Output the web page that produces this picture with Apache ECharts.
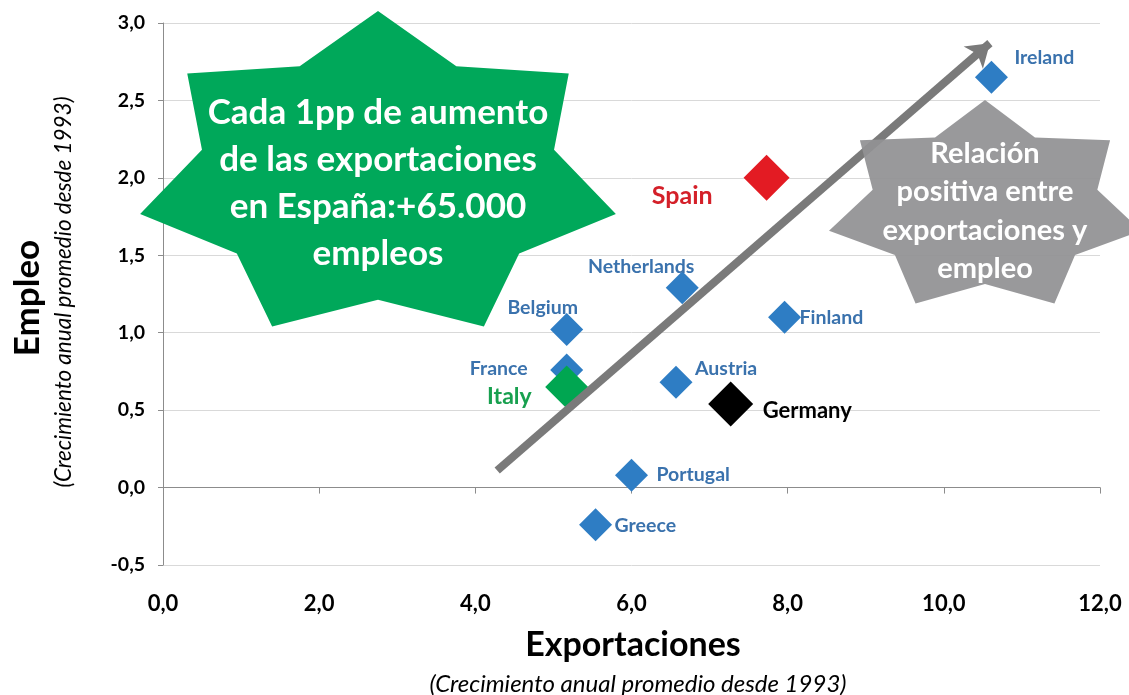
<!DOCTYPE html>
<html><head><meta charset="utf-8">
<script src="https://cdn.jsdelivr.net/npm/echarts@6/dist/echarts.min.js"></script>
<style>html,body{margin:0;padding:0;background:#fff}#c{width:1129px;height:695px}</style>
</head><body><div id="c"></div>
<script>
// ---- data ----
const countries = ['Ireland','Spain','Netherlands','Finland','Belgium','France','Italy','Austria','Germany','Portugal','Greece'];
const exportGrowth = [10.61, 7.73, 6.65, 7.96, 5.17, 5.17, 5.17, 6.57, 7.27, 6.00, 5.54];
const employmentGrowth = [2.65, 2.00, 1.29, 1.10, 1.02, 0.76, 0.65, 0.68, 0.54, 0.08, -0.24];
const xTicks = ['0,0','2,0','4,0','6,0','8,0','10,0','12,0'];
const trendStart = [4.28, 0.11];
const trendEnd = [10.59, 2.87];
const starGreenText = ['Cada 1pp de aumento','de las exportaciones','en España:+65.000','empleos'];
const starGrayText = ['Relación','positiva entre','exportaciones y','empleo'];

// ---- styles ----
const FONT = 'Lato, "Open Sans", sans-serif';
const blue = '#2e7dc4', blueText = '#3a72ad';
const styleMap = {
  Spain:   {color:'#e31b23', text:'#d42029', size:46, fs:25, dx:-54, dy:18, align:'right'},
  Italy:   {color:'#00a651', text:'#18a04f', size:43, fs:23, dx:-35, dy:10, align:'right'},
  Germany: {color:'#000000', text:'#000000', size:45, fs:22, dx:32, dy:7, align:'left'},
  Ireland: {dx:23, dy:-19, align:'left'},
  Netherlands: {dx:-41, dy:-21, align:'center'},
  Finland: {dx:15, dy:0, align:'left'},
  Belgium: {dx:-24, dy:-22, align:'center'},
  France: {dx:-39, dy:-1, align:'right'},
  Austria: {dx:19, dy:-14, align:'left'},
  Portugal: {dx:25, dy:0, align:'left'},
  Greece: {dx:19, dy:1, align:'left'}
};
const order = ['Ireland','Netherlands','Finland','Belgium','France','Austria','Portugal','Greece','Spain','Germany','Italy'];
const pts = order.map(name => {
  const i = countries.indexOf(name);
  const s = Object.assign({color:blue, text:blueText, size:33, fs:19.5}, styleMap[name]);
  const h = s.size/2;
  return {
    name, value:[exportGrowth[i], employmentGrowth[i]],
    symbolSize: s.size,
    itemStyle:{color:s.color, opacity:1},
    label:{show:true, formatter:name, position:[h+s.dx, h+s.dy], align:s.align, verticalAlign:'middle',
      color:s.text, fontSize:s.fs, fontWeight:'bold', fontFamily:FONT}
  };
});

function star(cx, cy, rx, ry, n, ratio, rot){
  const p=[];
  for(let k=0;k<2*n;k++){
    const a = rot + k*Math.PI/n;
    const f = k%2===0 ? 1 : ratio;
    p.push([cx + rx*f*Math.cos(a), cy + ry*f*Math.sin(a)]);
  }
  return p;
}
const chart = echarts.init(document.getElementById('c'), null, {renderer:'canvas'});
const option = {
  animation:false,
  grid:{left:163, right:29, top:23, bottom:130, containLabel:false},
  xAxis:[{
    type:'value', min:0, max:12, interval:2, position:'bottom',
    axisLine:{show:false, onZero:false}, axisTick:{show:false}, splitLine:{show:false},
    axisLabel:{margin:28, color:'#000', fontSize:22, fontWeight:'bold', fontFamily:FONT,
      formatter:(v)=>xTicks[Math.round(v/2)]}
  },{
    type:'value', min:0, max:12, interval:2, position:'bottom',
    axisLine:{show:true, onZero:true, lineStyle:{color:'#8c8c8c', width:1}},
    axisTick:{show:true, length:6, lineStyle:{color:'#8c8c8c'}},
    axisLabel:{show:false}, splitLine:{show:false}
  }],
  yAxis:{
    type:'value', min:-0.5, max:3, interval:0.5,
    axisLine:{show:true, lineStyle:{color:'#8c8c8c'}},
    axisTick:{show:true, inside:false, length:5, lineStyle:{color:'#8c8c8c'}},
    splitLine:{show:true, lineStyle:{color:'#d9d9d9', width:1}},
    axisLabel:{margin:18, color:'#000', fontSize:19.5, fontWeight:'bold', fontFamily:FONT,
      formatter:(v)=>v.toFixed(1).replace('.',',')}
  },
  series:[{
    type:'scatter', symbol:'diamond', data:pts, z:3
  },{
    type:'lines', coordinateSystem:'cartesian2d', z:4,
    symbol:['none','arrow'], symbolSize:22,
    lineStyle:{color:'#7a7a7a', width:8, opacity:1, curveness:0},
    data:[{coords:[trendStart, trendEnd]}]
  }],
  graphic:[
    {type:'polygon', shape:{points:star(378,177,244,166,7,0.74,-Math.PI/2)}, style:{fill:'#00a85a'}, z:10},
    {type:'text', x:378, y:183, z:11, style:{text:starGreenText.join('\n'), fill:'#fff', font:'bold 35px '+FONT,
      textAlign:'center', textVerticalAlign:'middle', lineHeight:47}},
    {type:'polygon', shape:{points:star(985,207,160,107,7,0.72,-Math.PI/2)}, style:{fill:'rgba(145,145,147,0.93)'}, z:10},
    {type:'text', x:985, y:211, z:11, style:{text:starGrayText.join('\n'), fill:'#fff', font:'bold 29px '+FONT,
      textAlign:'center', textVerticalAlign:'middle', lineHeight:38.5}},
    {type:'text', x:633, y:645, z:11, style:{text:'Exportaciones', fill:'#000', font:'bold 34px '+FONT, textAlign:'center', textVerticalAlign:'middle'}},
    {type:'text', x:638, y:684, z:11, style:{text:'(Crecimiento anual promedio desde 1993)', fill:'#000', font:'italic 24px '+FONT, textAlign:'center', textVerticalAlign:'middle'}},
    {type:'text', x:28, y:298, rotation:Math.PI/2, z:11, style:{text:'Empleo', fill:'#000', font:'bold 35px '+FONT, textAlign:'center', textVerticalAlign:'middle'}},
    {type:'text', x:64, y:292, rotation:Math.PI/2, z:11, style:{text:'(Crecimiento anual promedio desde 1993)', fill:'#000', font:'italic 22.5px '+FONT, textAlign:'center', textVerticalAlign:'middle'}}
  ]
};
chart.setOption(option);
</script></body></html>
